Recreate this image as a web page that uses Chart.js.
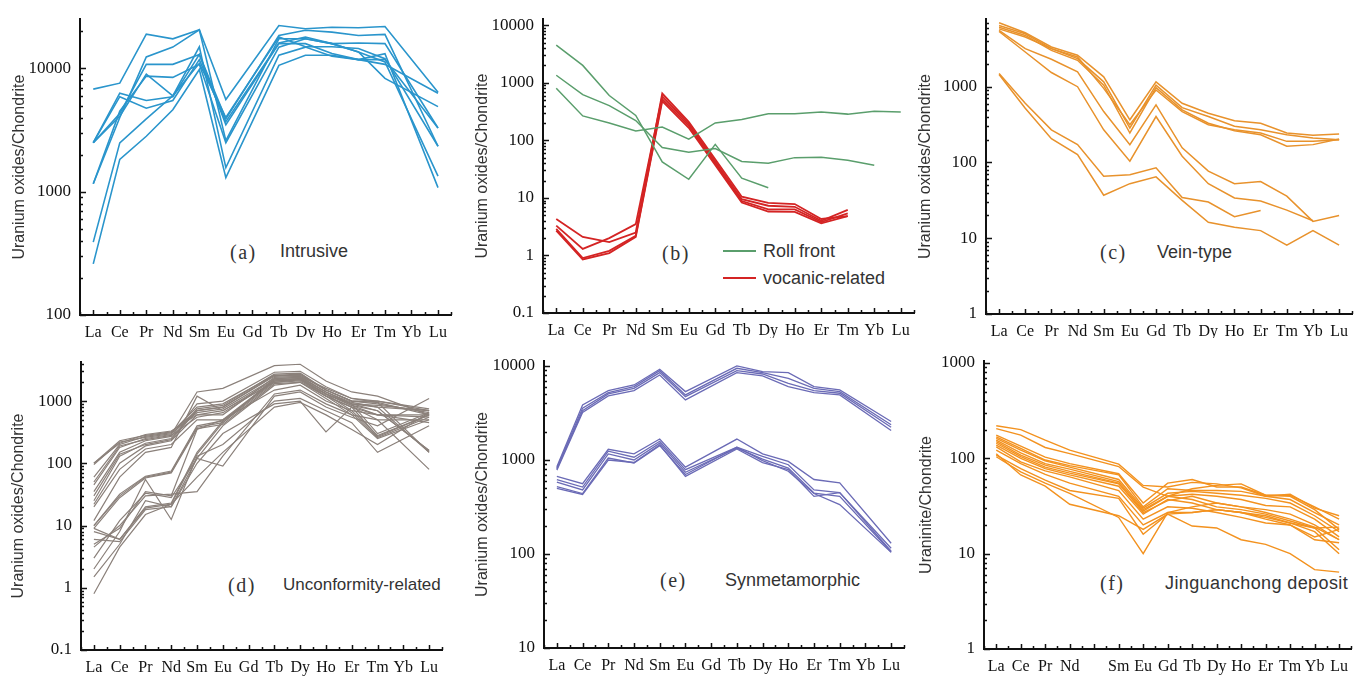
<!DOCTYPE html>
<html>
<head>
<meta charset="utf-8">
<script src="https://cdn.jsdelivr.net/npm/chart.js@4.4.0/dist/chart.umd.min.js"></script>
<style>
  body { margin: 0; background: #fff; }
  #wrap { position: relative; width: 1356px; height: 677px; overflow: hidden; background: #fff; }
  #wrap canvas { position: absolute; }
  .note { position: absolute; font-family: 'Liberation Sans', Arial, sans-serif; font-size: 18px;
          color: #333; white-space: nowrap; line-height: 1; transform: translateY(-50%); }
  .tag { font-family: 'Liberation Serif', 'Times New Roman', serif; letter-spacing: 1.5px; font-size: 20px; }
  .swatch { position: absolute; height: 2px; width: 33px; }
</style>
</head>
<body>
<div id="wrap">
  <div class="note tag" style="left:230px; top:252px">(a)</div>
  <div class="note" style="left:280px; top:251px">Intrusive</div>

  <div class="note tag" style="left:662px; top:253px">(b)</div>
  <div class="swatch" style="left:723px; top:250px; background:#5a9e6c"></div>
  <div class="note" style="left:763px; top:251px">Roll front</div>
  <div class="swatch" style="left:723px; top:277px; background:#d42424"></div>
  <div class="note" style="left:763px; top:278px">vocanic-related</div>

  <div class="note tag" style="left:1100px; top:252px">(c)</div>
  <div class="note" style="left:1157px; top:252px">Vein-type</div>

  <div class="note tag" style="left:228px; top:585px">(d)</div>
  <div class="note" style="left:283px; top:584px; font-size:17px">Unconformity-related</div>

  <div class="note tag" style="left:660px; top:580px">(e)</div>
  <div class="note" style="left:725px; top:580px">Synmetamorphic</div>

  <div class="note tag" style="left:1100px; top:583px">(f)</div>
  <div class="note" style="left:1165px; top:583px; letter-spacing:0.4px">Jinguanchong deposit</div>
</div>

<script>
// ── categories ────────────────────────────────────────────────────────────
const reeLabels = ['La', 'Ce', 'Pr', 'Nd', 'Sm', 'Eu', 'Gd', 'Tb', 'Dy', 'Ho', 'Er', 'Tm', 'Yb', 'Lu'];
// panel (f) keeps an empty slot for Pm
const reeLabelsPm = ['La', 'Ce', 'Pr', 'Nd', '', 'Sm', 'Eu', 'Gd', 'Tb', 'Dy', 'Ho', 'Er', 'Tm', 'Yb', 'Lu'];

// ── y tick labels per panel ───────────────────────────────────────────────
const ticksA = [100, 1000, 10000];
const ticksB = [0.1, 1, 10, 100, 1000, 10000];
const ticksC = [1, 10, 100, 1000];
const ticksD = [0.1, 1, 10, 100, 1000];
const ticksE = [10, 100, 1000, 10000];
const ticksF = [1, 10, 100, 1000];

// ── (a) Intrusive ─────────────────────────────────────────────────────────
const intrusiveSeries = [
  [6800, 7600, 19000, 17400, 20600, 5600, null, 22300, 21000, 21600, 21400, 21900, null, 6400],
  [2500, 6300, 5500, 5900, 13000, 3900, null, 18500, 20400, 19700, 18500, 18900, null, 2340],
  [2500, 5900, 4760, 5500, 11800, 3700, null, 16100, 18000, 15900, 16100, 15900, null, 3290],
  [1160, 4000, 12400, 14900, 20600, 2600, null, 17400, 17400, 15900, 13600, 11300, null, 1340],
  [2500, 4300, 10800, 10800, 13000, 3500, null, 15900, 15900, 13200, 11800, 13200, null, 1080],
  [1160, 4500, 8670, 8460, 10800, 2500, null, 14900, 17400, 15900, 13600, 8300, null, 4900],
  [390, 2490, 3900, 6000, 15000, 1570, null, 12800, 14900, 12550, 11800, 11800, null, 3290],
  [260, 1830, 2820, 4620, 9800, 1300, null, 10600, 12800, 12800, 11800, 10800, null, 6300],
  [2500, 4100, 9000, 6000, 11000, 4000, null, 18000, 15000, 15000, 14500, 12000, null, 2340],
];

// ── (b) Roll front / volcanic-related ─────────────────────────────────────
const rollFrontSeries = [
  [4500, 2000, 600, 270, 42, 21, 85, 22, 15, null, null, null, null, null],
  [1350, 620, 400, 220, 75, 62, 72, 43, 40, 50, 51, 45, 37, null],
  [800, 265, 200, 145, 170, 105, 200, 230, 290, 290, 310, 285, 320, 310],
];
const volcanicSeries = [
  [4.3, 2.1, 1.7, 2.5, 650, 210, null, 10.5, 8.2, 7.8, 4.3, 4.8, null, null],
  [3.3, 1.3, 2.0, 3.5, 580, 195, null, 9.5, 7.3, 7.0, 4.0, 6.2, null, null],
  [2.9, 0.9, 1.2, 2.2, 520, 180, null, 8.8, 6.3, 6.3, 3.8, 5.4, null, null],
  [2.7, 0.85, 1.1, 2.1, 480, 165, null, 8.3, 5.8, 5.7, 3.6, 4.8, null, null],
];

// ── (c) Vein-type ─────────────────────────────────────────────────────────
const veinSeries = [
  [7000, 5160, 3340, 2600, 1350, 366, 1160, 605, 447, 355, 330, 245, 228, 237],
  [6430, 5000, 3180, 2350, 1160, 285, 1050, 530, 405, 300, 270, 232, 210, 200],
  [6100, 4750, 3020, 2230, 1050, 245, 970, 495, 330, 263, 232, 164, 172, 204],
  [5800, 4520, 3180, 2470, 950, 315, 905, 470, 315, 270, 245, 190, 190, 200],
  [5530, 3180, 2300, 1570, 470, 172, 575, 156, 77, 52.5, 56, 36, 16.7, 20],
  [5350, 2870, 1540, 1000, 270, 104, 404, 121, 52.5, 34, 31, 23.5, 17, null],
  [1490, 605, 270, 172, 66, 69, 85, 34.5, 30, 19.2, 23.3, null, null, null],
  [1450, 520, 206, 127, 37, 52.5, 64.5, 31.6, 16.2, 14, 12.6, 8.1, 12.6, 8.1],
];

// ── (d) Unconformity-related ──────────────────────────────────────────────
const unconformitySeries = [
  [100, 230, 280, 320, 700, 800, null, 2500, 2600, 1500, 1000, 900, null, 650],
  [95, 220, 260, 300, 650, 750, null, 2300, 2400, 1400, 950, 800, null, 700],
  [100, 210, 290, 330, 600, 700, null, 2200, 2300, 1300, 900, 700, null, 160],
  [60, 200, 270, 310, 800, 900, null, 2600, 2500, 1600, 1100, 950, null, 150],
  [45, 180, 250, 290, 1400, 1600, null, 3700, 3900, 2100, 1400, 1200, null, 600],
  [35, 150, 230, 270, 900, 1000, null, 2900, 3000, 1700, 1100, 1000, null, 700],
  [25, 130, 210, 250, 750, 850, null, 2700, 2800, 1500, 1000, 1000, null, 750],
  [22, 100, 190, 230, 600, 600, null, 2400, 2500, 1400, 900, 300, null, 650],
  [20, 80, 170, 200, 500, 500, null, 2200, 2300, 1300, 850, 600, null, 550],
  [12, 60, 150, 180, 1200, 700, null, 2000, 2100, 1200, 800, 270, null, 600],
  [10, 30, 60, 72, 380, 450, null, 2300, 2400, 1400, 900, 800, null, 150],
  [10, 32, 62, 75, 400, 480, null, 2100, 2200, 1300, 850, 700, null, 160],
  [9, 28, 58, 70, 360, 420, null, 1900, 2000, 1200, 800, 500, null, 80],
  [9, 6, 20, 23, 150, 480, null, 2100, 2300, 1300, 700, 280, null, 600],
  [8, 6, 19, 22, 140, 450, null, 2000, 2200, 1200, 650, 260, null, 550],
  [6, 5.5, 18, 20, 120, 400, null, 1800, 2000, 1100, 600, 250, null, 500],
  [5, 9, 35, 30, 350, 500, null, 1500, 1800, 1000, 700, 600, null, 450],
  [4.5, 10, 30, 32, 35, 130, null, 1300, 1500, 900, 600, 500, null, 500],
  [3, 12, 33, 28, 120, 90, null, 1200, 1400, 800, 550, 400, null, 1100],
  [2, 8, 55, 12.5, 130, 200, null, 1000, 1100, 700, 450, 150, null, 400],
  [1.5, 5, 25, 20, 100, 300, null, 900, 1000, 320, 800, 600, null, 600],
  [0.8, 4.5, 15, 22, 60, 150, null, 800, 950, 600, 350, 200, null, 650],
  [50, 190, 240, 280, 550, 650, null, 2100, 2200, 1300, 900, 850, null, 700],
  [30, 140, 200, 240, 700, 800, null, 2600, 2700, 1500, 1000, 950, null, 600],
];

// ── (e) Synmetamorphic ────────────────────────────────────────────────────
const synmetaSeries = [
  [850, 3850, 5470, 6280, 9220, 5340, null, 10000, 8700, 8500, 6030, 5560, null, 2570],
  [820, 3550, 5200, 6030, 8920, 4920, null, 9450, 8500, 7400, 5790, 5340, null, 2370],
  [800, 3350, 5050, 5790, 8500, 4720, null, 8920, 8220, 6550, 5470, 5130, null, 2230],
  [780, 3200, 4800, 5470, 8030, 4360, null, 8500, 7830, 6030, 5210, 4920, null, 2060],
  [670, 560, 1300, 1160, 1670, 840, null, 1670, 1160, 965, 620, 570, null, 130],
  [620, 515, 1240, 1070, 1580, 790, null, 1370, 1090, 890, 480, 450, null, 107],
  [580, 480, 1160, 1000, 1510, 740, null, 1340, 1020, 820, 445, 410, null, 105],
  [520, 440, 1050, 930, 1420, 700, null, 1370, 985, 760, 440, 335, null, 104],
  [500, 430, 1000, 940, 1450, 670, null, 1310, 940, 790, 410, 450, null, 115],
];

// ── (f) Jinguanchong deposit (uraninite) ──────────────────────────────────
const jinguanchongSeries = [
  [220, 200, 155, 122, null, 87, 52, 50, 56, 54, 49, 40, 42, 30, 25],
  [205, 175, 130, 112, null, 82, 50, 40, 48, 52, 54, 41, 41, 31, 23],
  [175, 134, 103, 88, null, 69, 34, 55, 60, 50, 50, 41, 40, 29, 18],
  [168, 127, 96, 84, null, 67, 31, 48, 46, 46, 45, 40, 37, 27, 20],
  [162, 122, 94, 81, null, 60, 30, 43, 45, 43, 41, 38, 34, 25, 17],
  [155, 114, 88, 77, null, 57, 29, 40, 42, 40, 37, 32, 31, 23, 15],
  [150, 108, 85, 73, null, 55, 27, 36, 40, 34, 31, 29, 26, 20, 14],
  [144, 104, 81, 70, null, 54, 28, 40, 37, 31, 29, 26, 22, 18.6, 11],
  [138, 100, 78, 67, null, 51, 26, 37, 34, 29, 27, 24, 21, 17, 10],
  [132, 92, 74, 64, null, 46, 23, 31, 30, 27, 24, 21, 20, 15, 18],
  [122, 88, 68, 55, null, 40, 20, 27, 27, 29, 27, 25, 21, 18.6, 19],
  [108, 78, 59, 46, null, 38, 16, 26, 27, 29, 27, 23, 20, 14, 13],
  [112, 67, 51, 33, null, 25, 18, 26, 19.5, 18.6, 14, 12.5, 10, 6.8, 6.4],
  [104, 72, 55, 43, null, 24, 10, 27, 31, 34, 31, 27, 23, 19, 14],
];

// ── 색상 ──────────────────────────────────────────────────────────────────
const BLUE = '#2a95cc';
const GREEN = '#5a9e6c';
const RED = '#d42424';
const ORANGE_C = '#e8922c';
const GREY = '#8b817b';
const PURPLE = '#6b6bb6';
const ORANGE_F = '#f3921f';

const SERIF = "'Liberation Serif', 'Times New Roman', serif";
const SANS = "'Liberation Sans', Arial, sans-serif";

// 안쪽으로 향하는 눈금(주/보조)을 직접 그린다
const innerTicks = {
  id: 'innerTicks',
  afterDatasetsDraw(chart) {
    const { ctx, chartArea: a, scales: { x, y } } = chart;
    ctx.save();
    ctx.strokeStyle = '#111';
    ctx.lineWidth = 1.5;
    ctx.beginPath();
    const n = x.getLabels().length;
    for (let k = -1; k <= 2 * n - 1; k++) {
      const v = k / 2;
      const px = Math.round(x.getPixelForValue(v)) + 0.5;
      const len = k % 2 === 0 ? 5 : 3;
      ctx.moveTo(px, a.bottom);
      ctx.lineTo(px, a.bottom - len);
    }
    const lo = Math.floor(Math.log10(y.min));
    const hi = Math.ceil(Math.log10(y.max));
    for (let d = lo; d <= hi; d++) {
      for (let m = 1; m <= 9; m++) {
        const v = m * Math.pow(10, d);
        if (v < y.min * 0.999 || v > y.max * 1.001) continue;
        const py = Math.round(y.getPixelForValue(v)) + 0.5;
        const len = m === 1 ? 6 : 3;
        ctx.moveTo(a.left, py);
        ctx.lineTo(a.left + len, py);
      }
    }
    ctx.stroke();
    ctx.restore();
  },
};

function makePanel(cfg) {
  const wrap = document.getElementById('wrap');
  const canvas = document.createElement('canvas');
  canvas.width = cfg.w;
  canvas.height = cfg.h;
  canvas.style.left = cfg.x + 'px';
  canvas.style.top = cfg.y + 'px';
  wrap.appendChild(canvas);

  const datasets = [];
  cfg.groups.forEach(g => {
    g.data.forEach(values => {
      datasets.push({
        data: values,
        borderColor: g.color,
        borderWidth: g.width,
        pointRadius: 0,
        tension: 0,
        fill: false,
        spanGaps: true,
      });
    });
  });

  return new Chart(canvas, {
    type: 'line',
    data: { labels: cfg.labels, datasets },
    options: {
      responsive: false,
      animation: false,
      events: [],
      layout: {
        padding: { top: cfg.top - cfg.y, right: cfg.x + cfg.w - cfg.right, left: 0, bottom: 0 },
      },
      plugins: { legend: { display: false }, tooltip: { enabled: false } },
      scales: {
        x: {
          type: 'category',
          offset: true,
          grid: { display: false, drawTicks: false },
          border: { display: true, color: '#111', width: 2 },
          ticks: {
            autoSkip: false, maxRotation: 0, padding: 8,
            font: { family: SERIF, size: 16 }, color: '#111',
          },
          afterFit: (s) => { s.height = cfg.y + cfg.h - cfg.bottom; },
        },
        y: {
          type: 'logarithmic',
          min: cfg.min,
          max: cfg.max,
          grid: { display: false, drawTicks: false },
          border: { display: true, color: '#111', width: 2 },
          ticks: {
            autoSkip: false, padding: 9,
            font: { family: SERIF, size: 17 }, color: '#111',
            callback: (v) => String(v),
          },
          afterBuildTicks: (s) => { s.ticks = cfg.ticks.map(v => ({ value: v })); },
          afterFit: (s) => { s.width = cfg.axisX - cfg.x; },
          title: {
            display: true,
            text: cfg.title,
            color: '#333',
            font: { family: SANS, size: 16 },
            padding: { top: cfg.titlePad, bottom: 0 },
          },
        },
      },
    },
    plugins: [innerTicks],
  });
}

const TITLE = 'Uranium oxides/Chondrite';

makePanel({ x: 0, y: 0, w: 455, h: 338, axisX: 80, top: 15, right: 452, bottom: 315,
  min: 100, max: 25100, ticks: ticksA, labels: reeLabels, title: TITLE, titlePad: 10,
  groups: [{ data: intrusiveSeries, color: BLUE, width: 1.6 }] });

makePanel({ x: 460, y: 0, w: 460, h: 338, axisX: 543, top: 15, right: 914, bottom: 313,
  min: 0.1, max: 12700, ticks: ticksB, labels: reeLabels, title: TITLE, titlePad: 13,
  groups: [{ data: rollFrontSeries, color: GREEN, width: 1.5 },
           { data: volcanicSeries, color: RED, width: 1.8 }] });

makePanel({ x: 912, y: 0, w: 444, h: 338, axisX: 986, top: 17, right: 1356, bottom: 314,
  min: 1, max: 7780, ticks: ticksC, labels: reeLabels, title: TITLE, titlePad: 4,
  groups: [{ data: veinSeries, color: ORANGE_C, width: 1.5 }] });

makePanel({ x: 0, y: 340, w: 455, h: 337, axisX: 81, top: 362, right: 442, bottom: 650,
  min: 0.1, max: 4240, ticks: ticksD, labels: reeLabels, title: TITLE, titlePad: 9,
  groups: [{ data: unconformitySeries, color: GREY, width: 1.2 }] });

makePanel({ x: 460, y: 340, w: 460, h: 337, axisX: 544, top: 361, right: 904, bottom: 648,
  min: 10, max: 11300, ticks: ticksE, labels: reeLabels, title: TITLE, titlePad: 13,
  groups: [{ data: synmetaSeries, color: PURPLE, width: 1.3 }] });

makePanel({ x: 912, y: 340, w: 444, h: 337, axisX: 984, top: 361, right: 1356, bottom: 649,
  min: 1, max: 1050, ticks: ticksF, labels: reeLabelsPm, title: 'Uraninite/Chondrite', titlePad: 5,
  groups: [{ data: jinguanchongSeries, color: ORANGE_F, width: 1.4 }] });
</script>
</body>
</html>
